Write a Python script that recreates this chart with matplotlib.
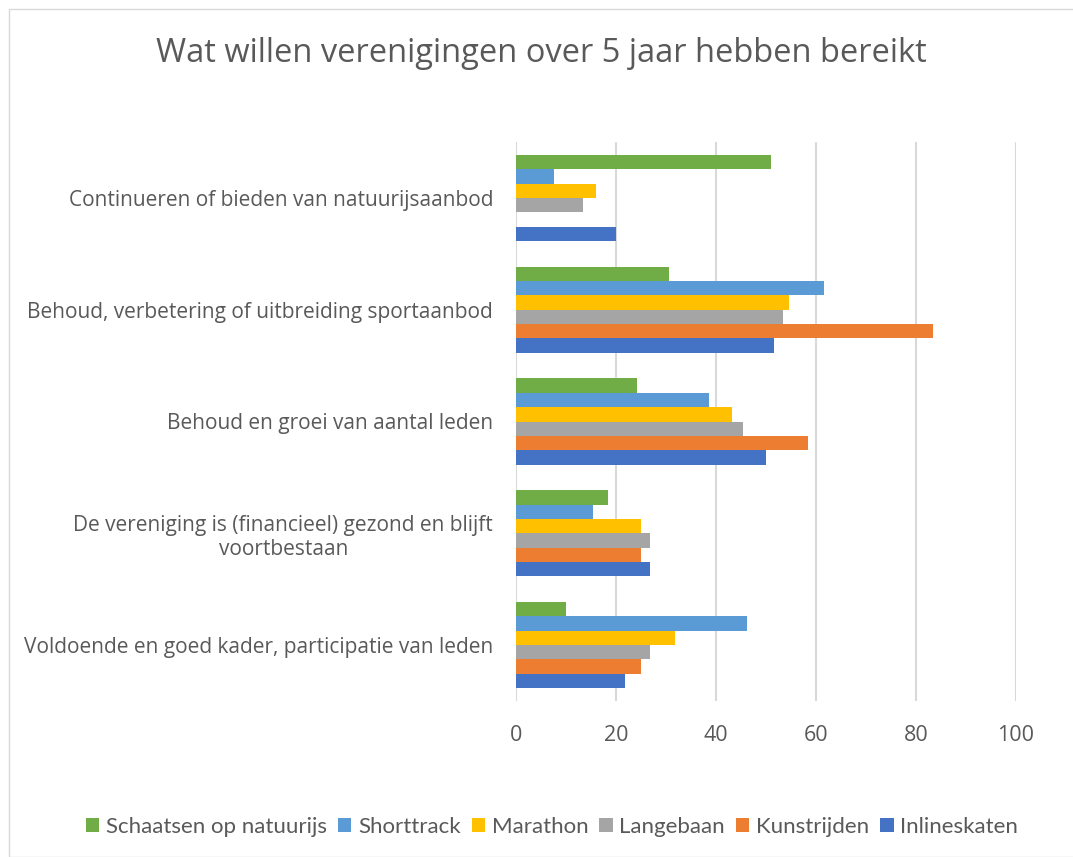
import matplotlib
matplotlib.use("Agg")
import matplotlib.pyplot as plt
import numpy as np
from matplotlib.patches import Rectangle

categories = [
    "Continueren of bieden van natuurijsaanbod",
    "Behoud, verbetering of uitbreiding sportaanbod",
    "Behoud en groei van aantal leden",
    "De vereniging is (financieel) gezond en blijft\nvoortbestaan",
    "Voldoende en goed kader, participatie van leden",
]
series_names = ["Schaatsen op natuurijs", "Shorttrack", "Marathon",
                "Langebaan", "Kunstrijden", "Inlineskaten"]
schaatsen = [51.0, 30.5, 24.1, 18.3, 9.9]
shorttrack = [7.6, 61.5, 38.5, 15.3, 46.1]
marathon = [15.9, 54.5, 43.1, 24.9, 31.7]
langebaan = [13.3, 53.3, 45.3, 26.7, 26.7]
kunstrijden = [0.0, 83.3, 58.3, 25.0, 25.0]
inlineskaten = [20.0, 51.6, 49.9, 26.7, 21.7]
xticks = [0, 20, 40, 60, 80, 100]

series = [schaatsen, shorttrack, marathon, langebaan, kunstrijden, inlineskaten]
colors = ["#70AD47", "#5B9BD5", "#FFC000", "#A5A5A5", "#ED7D31", "#4472C4"]

W, H = 1073, 857
fig = plt.figure(figsize=(W / 100, H / 100), dpi=100)
fig.patch.set_facecolor("white")
fig.patches.append(Rectangle((9 / W, 0), 1 - 9 / W + 0.01, 1 - 9 / H,
                             transform=fig.transFigure, fill=False,
                             edgecolor="#D9D9D9", linewidth=1.0))

left, right, top, bottom = 516, 1016, 142, 701
ax = fig.add_axes([left / W, 1 - bottom / H, (right - left) / W, (bottom - top) / H])

n_cat = len(categories)
n_ser = len(series)
bar_h = 0.77 / n_ser
y_centers = np.arange(n_cat)[::-1].astype(float)  # first category at top
for i, (vals, name, col) in enumerate(zip(series, series_names, colors)):
    offs = (n_ser - 1) / 2 - i  # first series at top of group
    ax.barh(y_centers + offs * bar_h, vals, height=bar_h, color=col,
            label=name, zorder=3)

ax.set_xlim(0, 100)
ax.set_ylim(-0.5, n_cat - 0.5)
ax.set_xticks(xticks)
ax.set_xticklabels([str(t) for t in xticks])
ax.set_yticks(y_centers)
ax.set_yticklabels(categories, multialignment="center")
ax.grid(axis="x", color="#D9D9D9", linewidth=1.5, zorder=0)
for s in ax.spines.values():
    s.set_visible(False)
ax.tick_params(axis="both", length=0, colors="#595959")
ax.tick_params(axis="x", pad=17.5, labelsize=15.5)
ax.tick_params(axis="y", pad=16.5, labelsize=15)
for lbl in ax.get_xticklabels() + ax.get_yticklabels():
    lbl.set_fontfamily("Open Sans")
    lbl.set_color("#595959")

fig.text(0.5 + 9 / W / 2, 1 - 53 / H,
         "Wat willen verenigingen over 5 jaar hebben bereikt",
         ha="center", va="center", fontsize=23.5, color="#595959",
         family="Open Sans")

handles, labels = ax.get_legend_handles_labels()
leg = fig.legend(handles, labels, loc="center", bbox_to_anchor=(552 / W, 1 - 827 / H),
                 ncol=6, frameon=False, handlelength=0.6, handleheight=0.6,
                 handletextpad=0.3, columnspacing=0.5,
                 prop={"family": "Lato", "size": 16})
for t in leg.get_texts():
    t.set_color("#595959")

fig.savefig("out.png", dpi=100)
